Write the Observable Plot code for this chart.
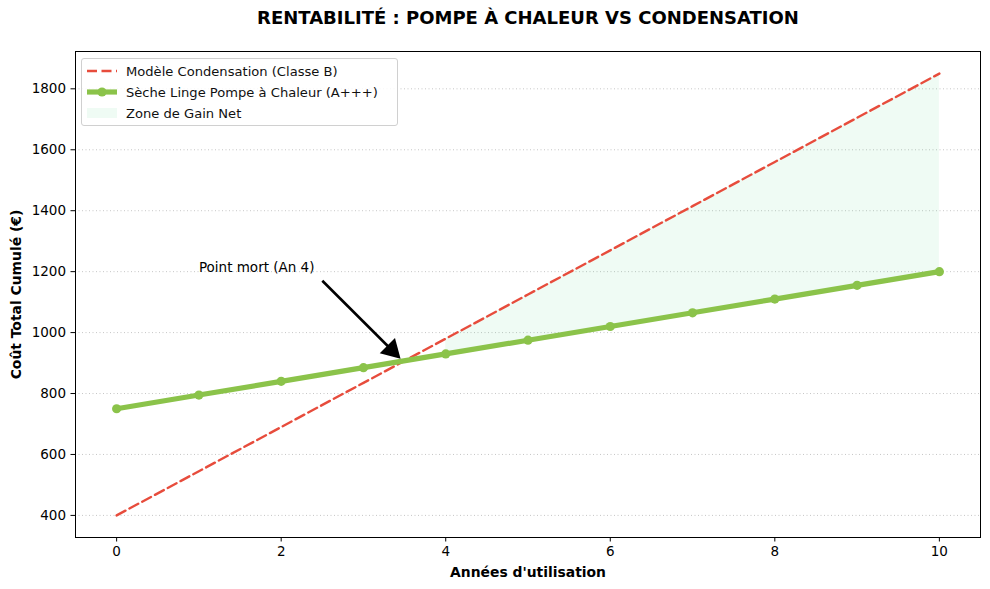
<!DOCTYPE html>
<html>
<head>
<meta charset="utf-8">
<script src="https://cdn.jsdelivr.net/npm/d3@7"></script>
<script src="https://cdn.jsdelivr.net/npm/@observablehq/plot@0.6"></script>
<style>
  html, body { margin: 0; padding: 0; background: #fff; }
  #wrap { position: relative; width: 990px; height: 589px; font-family: "DejaVu Sans", sans-serif; }
  #legend { position: absolute; left: 81px; top: 58px; width: 315px; height: 66px; border: 1px solid #d0d0d0; border-radius: 3px; background: rgba(255,255,255,0.85); font-size: 13.1px; color: #111; }
  .row { position: absolute; left: 0; height: 20px; display: flex; align-items: center; white-space: nowrap; }
  .row svg { margin-left: 5px; margin-right: 9px; }
</style>
</head>
<body>
<div id="wrap"></div>
<script>
// ---- data ----
const years = [0, 1, 2, 3, 4, 5, 6, 7, 8, 9, 10];
const condensationCost = [400, 545, 690, 835, 980, 1125, 1270, 1415, 1560, 1705, 1850];
const pompeCost = [750, 795, 840, 885, 930, 975, 1020, 1065, 1110, 1155, 1200];
const xTicks = [0, 2, 4, 6, 8, 10];
const yTicks = [400, 600, 800, 1000, 1200, 1400, 1600, 1800];
const titleText = "RENTABILITÉ : POMPE À CHALEUR VS CONDENSATION";
const xLabel = "Années d'utilisation";
const yLabel = "Coût Total Cumulé (€)";
const seriesNames = ["Modèle Condensation (Classe B)", "Sèche Linge Pompe à Chaleur (A+++)", "Zone de Gain Net"];
const annotText = "Point mort (An 4)";
const annotTextPos = [1, 1200];
const arrowTail = [2.5, 1170];
const arrowHeadCenter = [3.344, 943];

const rows = years.map((y, i) => ({ year: y, cond: condensationCost[i], pompe: pompeCost[i] }));
const gainRows = rows.filter(d => d.cond > d.pompe);

const RED = "#e74c3c", GREEN = "#8bc34a", FILL = "#2ecc71";
const FS = 13.5;

const plot = Plot.plot({
  width: 990,
  height: 589,
  marginTop: 51,
  marginBottom: 52,
  marginLeft: 75,
  marginRight: 10,
  style: { fontFamily: "DejaVu Sans, sans-serif", fontSize: FS + "px", color: "#000", background: "#fff" },
  x: { domain: [-0.5, 10.5] },
  y: { domain: [327.5, 1922.5] },
  marks: [
    Plot.gridY(yTicks, { stroke: "#b0b0b0", strokeOpacity: 0.9, strokeDasharray: "1,2.5", strokeWidth: 0.8 }),
    Plot.areaY(gainRows, { x: "year", y1: "pompe", y2: "cond", fill: FILL, fillOpacity: 0.08 }),
    Plot.line(rows, { x: "year", y: "cond", stroke: RED, strokeWidth: 2.4, strokeDasharray: "10,4.5" }),
    Plot.line(rows, { x: "year", y: "pompe", stroke: GREEN, strokeWidth: 5.2 }),
    Plot.dot(rows, { x: "year", y: "pompe", fill: GREEN, r: 4.6 }),
    Plot.link([{}], { x1: () => arrowTail[0], y1: () => arrowTail[1], x2: () => arrowHeadCenter[0], y2: () => arrowHeadCenter[1], stroke: "#000", strokeWidth: 2.6 }),
    Plot.dot([{}], { x: () => arrowHeadCenter[0], y: () => arrowHeadCenter[1], symbol: "triangle", r: 8, fill: "#000", rotate: 135 }),
    Plot.text([annotText], { x: () => annotTextPos[0], y: () => annotTextPos[1], text: d => d, textAnchor: "start", lineAnchor: "bottom", dy: 0, fontSize: FS, fill: "#000" }),
    Plot.axisX(xTicks, { tickSize: 4.5, tickPadding: 4, fontSize: FS, label: null, tickFormat: d3.format("d") }),
    Plot.axisY(yTicks, { tickSize: 4.5, tickPadding: 5, fontSize: FS, label: null, tickFormat: d3.format("d") }),
    Plot.frame({ stroke: "#000", strokeWidth: 1 }),
    Plot.text([titleText], { frameAnchor: "top", lineAnchor: "middle", dy: -33, text: d => d, fontWeight: "bold", fontSize: 18, fill: "#000" }),
    Plot.text([xLabel], { frameAnchor: "bottom", lineAnchor: "middle", dy: 35, text: d => d, fontWeight: "bold", fontSize: 13.9, fill: "#000" }),
    Plot.text([yLabel], { frameAnchor: "left", textAnchor: "middle", lineAnchor: "middle", dx: -59, rotate: -90, text: d => d, fontWeight: "bold", fontSize: 13.9, fill: "#000" })
  ]
});

const wrap = document.getElementById("wrap");
wrap.appendChild(plot);

// legend
const legend = document.createElement("div");
legend.id = "legend";
const swatches = [
  `<svg width="30" height="10"><line x1="0" y1="5" x2="30" y2="5" stroke="${RED}" stroke-width="2.4" stroke-dasharray="10,4.5"/></svg>`,
  `<svg width="30" height="10"><line x1="0" y1="5" x2="30" y2="5" stroke="${GREEN}" stroke-width="5.2"/><circle cx="15" cy="5" r="4.6" fill="${GREEN}"/></svg>`,
  `<svg width="30" height="12"><rect x="0" y="1" width="30" height="10" fill="${FILL}" fill-opacity="0.08"/></svg>`
];
const tops = [2, 23, 44];
seriesNames.forEach((name, i) => {
  const r = document.createElement("div");
  r.className = "row";
  r.style.top = tops[i] + "px";
  r.innerHTML = swatches[i] + `<span>${name}</span>`;
  legend.appendChild(r);
});
wrap.appendChild(legend);
</script>
</body>
</html>
